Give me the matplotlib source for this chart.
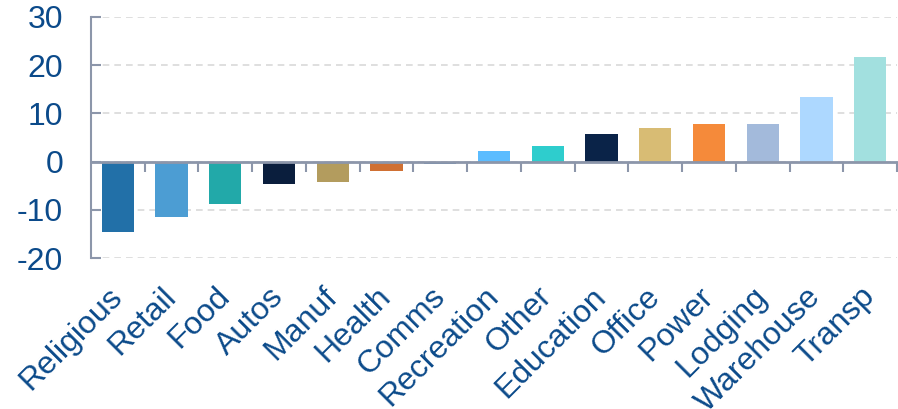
import matplotlib
matplotlib.use("Agg")
import matplotlib.pyplot as plt
import numpy as np
from matplotlib.ticker import FixedLocator, NullFormatter

categories = ["Religious", "Retail", "Food", "Autos", "Manuf", "Health", "Comms",
              "Recreation", "Other", "Education", "Office", "Power", "Lodging",
              "Warehouse", "Transp"]
values = [-14.7, -11.5, -8.8, -4.7, -4.3, -2.0, -0.6, 2.2, 3.3, 5.7, 6.9, 7.9, 7.9, 13.3, 21.6]
colors = ["#2270A8", "#4C9DD3", "#22A9A9", "#0A1E3D", "#B39C5E", "#D07033", "#3A7FC0",
          "#5BBCFF", "#2ECDCD", "#0A2348", "#D8BC74", "#F58A3A", "#A3BADB", "#ADD8FF", "#A2E0DF"]
yticks = [-20, -10, 0, 10, 20, 30]

plt.rcParams['font.family'] = ['Liberation Sans', 'DejaVu Sans']
text_color = "#0B4A8A"
axis_color = "#8C96AA"

fig = plt.figure(figsize=(8.98, 4.09), dpi=100)
ax = fig.add_axes([91/898, 1 - 258/409, 806/898, 241/409])

x = np.arange(len(categories))
ax.bar(x, values, width=0.6, color=colors, zorder=3)

ax.set_xlim(-0.5, len(categories) - 0.5)
ax.set_ylim(-20, 30)
ax.set_yticks(yticks)
ax.set_yticklabels([str(t) for t in yticks])

ax.yaxis.grid(True, color="#D9D9D9", linestyle=(0, (4, 3)), linewidth=1.2, zorder=0)
ax.set_axisbelow(True)

for s in ["top", "right"]:
    ax.spines[s].set_visible(False)
ax.spines["left"].set_color(axis_color)
ax.spines["left"].set_linewidth(1.5)
ax.spines["bottom"].set_position(("data", 0))
ax.spines["bottom"].set_color(axis_color)
ax.spines["bottom"].set_linewidth(2)
ax.spines["bottom"].set_zorder(4)

ax.tick_params(axis="y", direction="in", length=7, width=1.5, color=axis_color,
               labelsize=23, labelcolor=text_color, pad=20)

boundaries = np.arange(len(categories) + 1) - 0.5
ax.xaxis.set_major_locator(FixedLocator(boundaries[1:]))
ax.xaxis.set_major_formatter(NullFormatter())
ax.xaxis.set_minor_locator(FixedLocator(x))
ax.set_xticks(x, minor=True)
ax.set_xticklabels(categories, minor=True)
ax.tick_params(axis="x", which="major", direction="out", length=7, width=1.5, color=axis_color)
ax.tick_params(axis="x", which="minor", length=0, labelsize=23, labelcolor=text_color, pad=94)
for lbl in ax.get_xticklabels(minor=True):
    lbl.set_rotation(45)
    lbl.set_ha("right")
    lbl.set_va("center")
    lbl.set_rotation_mode("anchor")

fig.savefig("out.png", dpi=100)
